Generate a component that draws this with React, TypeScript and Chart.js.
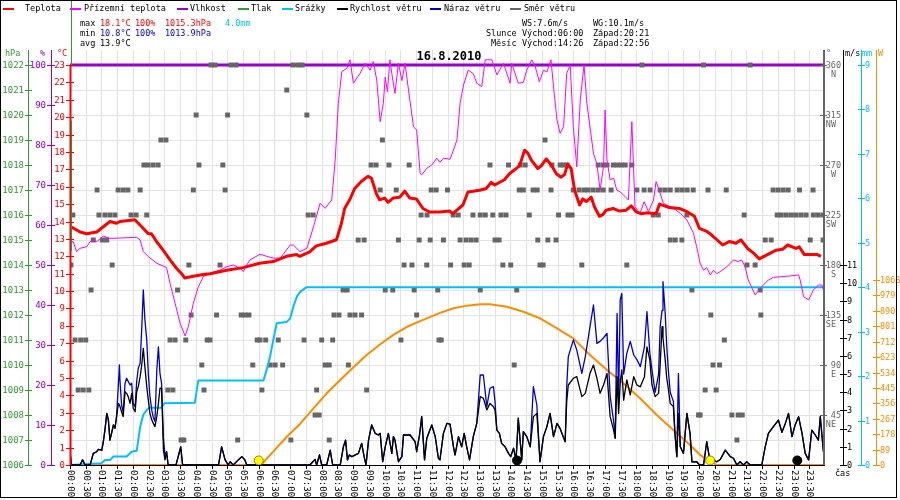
import React, { useEffect, useRef } from "react";
import { Chart, registerables } from "chart.js";

Chart.register(...registerables);

// ---------- data (hours since midnight) ----------
const dateTitle = "16.8.2010";

const tempTimes = [
  0.03, 0.32, 0.53, 0.85, 1.27, 1.48, 1.59, 1.8, 2.06, 2.28,
  2.49, 2.59, 2.75, 2.96, 3.18, 3.39, 3.55, 3.65, 3.92, 4.23,
  4.45, 4.98, 5.5, 6.03, 6.46, 6.88, 7.2, 7.3, 7.62, 7.83,
  8.15, 8.47, 8.63, 8.73, 8.89, 9.05, 9.26, 9.47, 9.58, 9.74,
  9.84, 10.0, 10.11, 10.27, 10.48, 10.64, 10.8, 11.01, 11.22, 11.43,
  11.75, 12.07, 12.17, 12.49, 12.65, 13.02, 13.23, 13.39, 13.5, 13.81,
  13.97, 14.29, 14.45, 14.55, 14.66, 14.87, 14.98, 15.14, 15.3, 15.46,
  15.61, 15.72, 15.82, 15.93, 16.04, 16.2, 16.3, 16.41, 16.57, 16.67,
  16.83, 16.94, 17.04, 17.26, 17.47, 17.68, 17.84, 18.0, 18.15, 18.36,
  18.63, 18.74, 19.05, 19.37, 19.63, 19.85, 20.01, 20.22, 20.38, 20.75,
  20.96, 21.17, 21.33, 21.54, 21.75, 21.91, 22.17, 22.28, 22.44, 22.65,
  22.81, 23.08, 23.18, 23.34, 23.76, 23.87,
];
const tempValues = [
  13.7, 13.4, 13.3, 13.4, 14.0, 13.9, 14.0, 14.05, 14.1, 13.7,
  13.3, 13.3, 12.85, 12.35, 11.8, 11.3, 11.0, 10.75, 10.85, 10.95,
  11.0, 11.2, 11.35, 11.6, 11.7, 12.0, 12.1, 12.0, 12.25, 12.6,
  12.75, 12.95, 13.9, 14.75, 15.25, 15.9, 16.3, 16.6, 16.5, 15.6,
  15.25, 15.35, 15.1, 15.35, 15.4, 15.75, 15.35, 15.3, 14.75, 14.55,
  14.55, 14.6, 14.45, 14.95, 15.7, 15.8, 15.9, 16.25, 16.1, 16.4,
  16.75, 17.2, 18.1, 17.95, 17.55, 17.05, 17.2, 17.6, 17.25, 16.75,
  16.55, 16.7, 17.3, 17.05, 15.8, 14.95, 15.3, 15.15, 15.4, 14.85,
  14.3, 14.4, 14.65, 14.75, 14.6, 14.65, 14.9, 14.55, 14.45, 14.5,
  14.45, 15.0, 14.8, 14.75, 14.55, 14.3, 13.6, 13.45, 13.25, 12.65,
  12.85, 12.75, 12.95, 12.45, 12.15, 11.85, 12.1, 12.2, 12.35, 12.4,
  12.65, 12.45, 12.55, 12.1, 12.1, 12.0,
];

const groundTimes = [
  0.03, 0.1, 0.21, 0.32, 0.53, 0.64, 0.74, 0.85, 1.06, 1.27,
  2.12, 2.23, 2.33, 2.49, 2.76, 3.07, 3.18, 3.34, 3.5, 3.66,
  3.76, 3.92, 4.08, 4.24, 4.45, 4.77, 4.98, 5.19, 5.41, 5.51,
  5.62, 5.72, 6.04, 6.25, 6.46, 6.68, 7.0, 7.1, 7.31, 7.53,
  7.74, 7.95, 8.11, 8.32, 8.43, 8.53, 8.64, 8.8, 8.9, 9.01,
  9.22, 9.38, 9.54, 9.64, 9.75, 9.86, 9.96, 10.02, 10.09, 10.17,
  10.23, 10.33, 10.44, 10.55, 10.65, 10.76, 10.92, 11.02, 11.13, 11.18,
  11.34, 11.5, 11.66, 11.76, 11.87, 12.08, 12.19, 12.3, 12.4, 12.51,
  12.66, 12.82, 12.93, 13.09, 13.2, 13.41, 13.57, 13.78, 13.99, 14.04,
  14.25, 14.41, 14.52, 14.68, 14.79, 14.92, 15.05, 15.16, 15.29, 15.37,
  15.48, 15.58, 15.69, 15.79, 15.9, 16.0, 16.11, 16.22, 16.34, 16.43,
  16.64, 16.75, 16.85, 16.96, 17.01, 17.07, 17.17, 17.28, 17.38, 17.49,
  17.65, 17.75, 17.86, 17.96, 18.12, 18.25, 18.39, 18.55, 18.63, 18.71,
  18.86, 19.18, 19.4, 19.61, 19.82, 19.92, 20.03, 20.14, 20.24, 20.35,
  20.46, 20.56, 20.67, 20.88, 21.09, 21.24, 21.35, 21.46, 21.56, 21.78,
  21.94, 22.2, 22.36, 22.89, 23.16, 23.21, 23.32, 23.48, 23.63, 23.79,
  23.9, 23.95,
];
const groundValues = [
  12.8, 12.85, 12.27, 12.46, 12.55, 12.84, 12.94, 12.84, 13.17, 13.03,
  13.09, 12.94, 12.27, 11.98, 11.6, 11.35, 10.45, 9.3, 8.15, 7.42,
  7.95, 9.3, 10.25, 10.83, 11.02, 11.21, 11.4, 11.5, 11.31, 11.12,
  11.5, 11.79, 12.12, 12.0, 11.9, 11.89, 12.65, 12.65, 12.27, 12.46,
  13.7, 15.05, 14.76, 15.24, 17.54, 20.8, 22.62, 22.81, 23.3, 21.95,
  22.52, 23.1, 22.7, 23.2, 22.14, 19.74, 20.8, 22.3, 21.47, 23.3,
  22.5, 21.37, 23.1, 22.1, 23.1, 21.56, 19.45, 19.26, 16.77, 16.68,
  17.06, 17.25, 17.64, 17.4, 17.64, 17.58, 18.11, 18.69, 20.8, 21.85,
  22.71, 22.5, 21.95, 21.76, 23.3, 23.3, 22.43, 23.1, 21.95, 23.1,
  21.95, 22.0, 22.71, 23.3, 22.9, 22.04, 22.7, 22.6, 23.3, 21.75,
  19.84, 19.07, 19.45, 22.52, 23.0, 19.45, 17.15, 20.99, 23.0, 20.8,
  17.92, 17.3, 15.81, 17.15, 20.41, 17.54, 16.39, 16.5, 15.81, 15.7,
  15.43, 15.24, 19.74, 14.85, 14.47, 15.14, 14.57, 15.24, 16.29, 15.91,
  15.05, 14.76, 14.47, 14.09, 13.32, 12.55, 11.6, 11.2, 11.35, 10.93,
  11.2, 11.0, 11.12, 11.4, 11.79, 11.7, 11.79, 11.4, 10.64, 9.78,
  10.16, 10.64, 10.79, 10.87, 10.93, 10.64, 9.68, 9.49, 10.06, 10.35,
  10.35, 10.06,
];

const humidityTimes = [0, 6, 12, 18, 24];
const humidityValues = [100, 100, 100, 100, 100];

const rainTimes = [
  0, 1.0, 1.11, 1.27, 1.38, 1.8, 1.96, 2.12, 2.17, 2.23,
  2.33, 2.44, 2.52, 2.91, 2.99, 3.97, 4.03, 4.08, 6.15, 6.25,
  6.36, 6.46, 6.57, 6.89, 7.0, 7.1, 7.21, 7.31, 7.47, 7.53, 24,
];
const rainValues = [
  0, 0.04, 0.11, 0.11, 0.19, 0.19, 0.3, 0.32, 0.56, 0.86,
  1.13, 1.24, 1.29, 1.29, 1.39, 1.4, 1.69, 1.9, 1.9, 2.14,
  2.44, 2.81, 3.19, 3.22, 3.3, 3.56, 3.79, 3.89, 3.98, 4.0, 4.0,
];

const solarTimes = [
  0, 6.0, 6.1, 6.46, 6.89, 7.31, 7.74, 8.16, 8.59, 9.01,
  9.43, 9.86, 10.28, 10.71, 11.13, 11.76, 12.19, 12.61, 13.04, 13.35,
  13.89, 14.41, 14.94, 15.48, 16.0, 16.53, 17.07, 17.59, 18.12, 18.65,
  19.18, 19.71, 20.03, 20.35, 20.56, 24,
];
const solarValues = [
  0, 0, 6, 77, 163, 237, 327, 414, 491, 564,
  635, 697, 751, 798, 831, 878, 905, 920, 928, 928,
  914, 885, 847, 789, 731, 635, 548, 472, 385, 289,
  202, 115, 58, 19, 0, 0,
];

const windTimes = [
  0.0, 0.05, 0.32, 0.4, 0.48, 0.64, 0.74, 0.85, 0.9, 1.01,
  1.06, 1.11, 1.17, 1.22, 1.27, 1.32, 1.38, 1.43, 1.48, 1.54,
  1.57, 1.59, 1.64, 1.69, 1.75, 1.8, 1.85, 1.91, 1.96, 2.01,
  2.07, 2.12, 2.17, 2.23, 2.28, 2.33, 2.38, 2.44, 2.49, 2.54,
  2.6, 2.65, 2.7, 2.76, 2.81, 2.86, 2.91, 2.97, 3.02, 3.07,
  3.12, 3.37, 3.48, 3.52, 3.58, 4.72, 4.82, 4.93, 5.03, 5.09,
  5.19, 5.35, 5.46, 5.56, 5.62, 7.63, 7.72, 7.79, 7.84, 7.93,
  8.0, 8.16, 8.27, 8.35, 8.59, 8.69, 8.76, 8.82, 8.88, 8.96,
  9.12, 9.17, 9.27, 9.35, 9.41, 9.49, 9.59, 9.7, 9.8, 9.86,
  9.94, 10.02, 10.12, 10.23, 10.28, 10.33, 10.44, 10.55, 10.6, 10.81,
  10.97, 11.02, 11.11, 11.18, 11.27, 11.34, 11.5, 11.61, 11.71, 11.76,
  11.87, 11.98, 12.08, 12.19, 12.24, 12.35, 12.45, 12.53, 12.61, 12.7,
  12.82, 12.93, 13.04, 13.14, 13.25, 13.35, 13.46, 13.51, 13.57, 13.65,
  13.72, 13.83, 13.94, 14.01, 14.1, 14.18, 14.25, 14.36, 14.41, 14.52,
  14.63, 14.73, 14.84, 14.94, 15.05, 15.16, 15.26, 15.37, 15.48, 15.58,
  15.74, 15.79, 15.84, 16.0, 16.11, 16.27, 16.38, 16.53, 16.64, 16.75,
  16.85, 16.96, 17.07, 17.17, 17.28, 17.33, 17.39, 17.44, 17.49, 17.54,
  17.6, 17.7, 17.81, 17.92, 18.02, 18.13, 18.26, 18.34, 18.43, 18.5,
  18.6, 18.71, 18.76, 18.82, 18.85, 18.92, 18.97, 19.02, 19.08, 19.18,
  19.23, 19.29, 19.34, 19.4, 19.5, 19.61, 19.71, 19.77, 19.92, 20.01,
  20.14, 20.24, 20.32, 20.4, 20.56, 20.67, 20.83, 20.99, 21.09, 21.2,
  21.3, 21.41, 21.51, 21.62, 21.99, 22.1, 22.2, 22.36, 22.52, 22.63,
  22.74, 22.84, 22.95, 23.05, 23.16, 23.27, 23.37, 23.48, 23.58, 23.69,
  23.79, 23.85, 23.95,
];
const windSpeed = [
  0.73, 0, 0, 0.28, 0, 0, 0.64, 0.73, 0.86, 0.82,
  1.28, 1.92, 2.84, 2.47, 1.37, 1.74, 2.2, 2.02, 2.66, 3.39,
  3.3, 3.21, 2.93, 2.66, 4.03, 3.94, 3.76, 3.39, 3.94, 3.12,
  2.93, 4.03, 4.31, 4.86, 5.5, 6.42, 5.41, 4.31, 3.57, 2.84,
  2.47, 2.29, 2.11, 2.66, 3.39, 4.22, 4.22, 0.82, 0.28, 0.73,
  0, 0, 0.73, 1.0, 0, 0, 1.0, 0.28, 0, 0.18,
  0, 0.28, 0.46, 0.28, 0, 0, 0.18, 0.31, 0, 0.55,
  0, 0, 0.82, 0, 0, 1.0, 1.37, 0.28, 0.55, 0.46,
  0.6, 0.64, 1.19, 0.46, 0, 1.37, 2.2, 1.74, 1.65, 1.74,
  0.18, 1.0, 1.74, 0.64, 1.56, 1.37, 0.18, 0.46, 1.65, 1.65,
  1.28, 0.73, 1.65, 2.66, 0.28, 1.46, 2.2, 1.56, 0.37, 0.28,
  1.74, 2.29, 2.25, 1.0, 0.55, 1.56, 1.0, 1.74, 1.0, 0.28,
  1.56, 2.29, 3.76, 3.67, 3.03, 3.39, 3.2, 3.03, 1.92, 1.74,
  1.19, 1.0, 0.64, 0.46, 0.92, 0.28, 2.57, 0.28, 1.83, 1.56,
  1.0, 2.66, 2.84, 0.18, 1.56, 2.11, 2.84, 1.56, 2.29, 2.0,
  1.28, 3.5, 4.4, 4.77, 4.86, 3.76, 3.94, 5.04, 5.5, 4.77,
  3.94, 4.4, 5.04, 2.66, 1.92, 1.46, 4.86, 2.84, 4.49, 5.23,
  3.57, 4.68, 3.85, 4.86, 4.4, 4.3, 4.86, 6.5, 5.78, 4.4,
  3.76, 3.94, 5.5, 7.61, 7.0, 5.78, 4.77, 4.2, 3.39, 3.21,
  1.74, 0.46, 2.84, 1.0, 0.64, 2.84, 1.74, 0.18, 0.18, 0,
  0, 1.28, 0.46, 0.3, 0.18, 0.3, 0.82, 0.46, 0.37, 0,
  0.18, 0, 0.18, 0, 0, 1.0, 1.74, 2.11, 2.47, 1.8,
  2.29, 2.84, 1.56, 2.2, 2.66, 1.74, 0.64, 0.28, 1.92, 1.65,
  1.37, 2.66, 0.73,
];
const windGust = [
  0.73, 0, 0, 0.28, 0, 0, 0.64, 0.73, 0.86, 0.82,
  1.28, 1.92, 2.84, 2.47, 1.37, 1.74, 2.2, 2.02, 2.66, 4.5,
  5.5, 4.6, 3.3, 2.9, 4.5, 4.77, 4.6, 4.4, 4.5, 3.4,
  3.2, 4.6, 5.32, 5.6, 7.5, 9.63, 8.0, 6.88, 5.0, 3.8,
  3.0, 2.6, 2.4, 5.23, 6.5, 5.04, 4.5, 1.5, 0.5, 0.73,
  0, 0, 0.73, 1.0, 0, 0, 1.0, 0.28, 0, 0.18,
  0, 0.28, 0.46, 0.28, 0, 0, 0.18, 0.31, 0, 0.55,
  0, 0, 0.82, 0, 0, 1.0, 1.37, 0.28, 0.55, 0.46,
  0.6, 0.64, 1.19, 0.46, 0, 1.37, 2.2, 1.74, 1.65, 1.74,
  0.18, 1.0, 1.74, 0.64, 1.56, 1.37, 0.18, 0.46, 1.65, 1.65,
  1.28, 0.73, 1.65, 2.66, 0.28, 1.46, 2.2, 1.56, 0.37, 0.28,
  1.74, 2.29, 2.25, 1.0, 0.55, 1.56, 1.0, 1.74, 1.0, 0.28,
  1.56, 2.29, 4.95, 4.95, 3.21, 4.22, 4.31, 3.5, 1.92, 1.74,
  1.19, 1.0, 0.64, 0.46, 0.92, 0.28, 2.57, 0.28, 1.83, 1.56,
  1.0, 4.31, 3.3, 0.18, 1.56, 2.11, 2.84, 1.56, 2.29, 2.0,
  1.28, 4.31, 5.96, 6.88, 6.32, 5.04, 5.96, 7.61, 8.8, 6.69,
  6.8, 7.0, 7.24, 3.8, 2.4, 1.5, 8.34, 3.5, 9.08, 9.44,
  5.0, 6.14, 6.8, 6.05, 5.8, 5.41, 6.5, 8.43, 6.2, 5.23,
  4.0, 5.0, 7.61, 8.5, 10.08, 8.34, 6.5, 5.23, 4.0, 3.5,
  1.74, 0.46, 5.04, 1.0, 0.64, 2.84, 1.74, 0.18, 0.18, 0,
  0, 1.28, 0.46, 0.3, 0.18, 0.3, 0.82, 0.46, 0.37, 0,
  0.18, 0, 0.18, 0, 0, 1.0, 1.74, 2.11, 2.47, 1.8,
  2.29, 2.84, 1.56, 2.2, 2.66, 1.74, 0.64, 0.28, 1.92, 1.65,
  1.37, 2.66, 0.73,
];

// wind direction samples, grouped by compass direction (degrees)
const dirDegrees = [360, 337.5, 315, 292.5, 270, 247.5, 225, 202.5, 180, 157.5, 135, 112.5, 90, 67.5, 45, 22.5];
const dir360 = [4.48, 4.61, 5.12, 5.28, 7.09, 7.25, 7.38, 18.18, 20.14, 21.62];
const dir337 = [6.89];
const dir315 = [4.01, 5.01, 7.53];
const dir292 = [2.89, 3.05, 9.93, 15.1];
const dir270 = [2.35, 2.48, 2.64, 2.8, 4.1, 4.86, 9.57, 9.73, 10.14, 10.78, 13.35, 13.94, 14.31, 14.47, 15.32, 15.58, 15.68, 15.8, 16.79, 16.95, 17.07, 17.27, 17.39, 17.52, 17.65, 17.86];
const dir247 = [0.86, 1.53, 1.69, 1.84, 2.23, 3.92, 4.93, 9.86, 10.37, 11.48, 11.64, 12.0, 14.28, 14.41, 14.72, 14.85, 15.29, 16.0, 16.18, 16.34, 16.47, 16.63, 16.79, 16.95, 17.2, 18.02, 18.25, 18.44, 18.76, 18.92, 19.08, 19.3, 19.46, 19.62, 19.81, 20.28, 20.86, 22.35, 22.51, 22.67, 22.83, 23.19, 23.62];
const dir225 = [0.09, 0.92, 1.11, 1.27, 1.43, 1.94, 2.1, 2.44, 7.57, 7.73, 11.16, 11.35, 12.18, 12.34, 12.81, 13.04, 13.2, 13.44, 13.7, 13.86, 14.6, 15.53, 15.83, 15.96, 18.54, 18.7, 19.61, 21.43, 22.48, 22.61, 22.77, 22.93, 23.08, 23.24, 23.4, 23.63, 23.78, 23.94];
const dir202 = [0.74, 1.03, 1.17, 9.16, 9.35, 10.44, 11.1, 11.45, 11.87, 12.4, 12.59, 12.75, 12.91, 13.51, 13.64, 14.87, 15.19, 15.45, 19.08, 19.24, 19.45, 22.1, 22.29, 23.53, 23.94];
const dir180 = [0.03, 1.34, 3.78, 4.77, 10.62, 10.87, 11.34, 12.1, 12.53, 12.69, 13.76, 14.01, 14.94, 15.04, 16.27, 17.7, 21.52, 21.78];
const dir157 = [0.67, 3.42, 8.68, 8.81, 10.02, 10.26, 10.94, 11.69, 13.04, 14.2, 19.77, 21.94];
const dir135 = [3.85, 4.66, 5.44, 5.56, 5.69, 8.39, 8.55, 8.9, 9.06, 9.27, 11.02, 20.37, 21.96];
const dir112 = [0.16, 0.34, 0.5, 3.18, 3.34, 3.68, 4.36, 4.45, 5.95, 6.04, 6.22, 6.62, 7.44, 8.0, 8.35, 10.52, 11.73, 11.8, 20.8];
const dir90 = [4.19, 5.81, 6.36, 6.52, 6.76, 8.11, 8.24, 8.85, 14.12, 20.44, 20.65];
const dir67 = [0.26, 0.42, 0.6, 3.11, 3.27, 4.26, 6.1, 7.84, 9.43, 20.19, 20.54];
const dir45 = [7.79, 7.92, 19.98, 20.03, 21.04, 21.24, 21.37];
const dir22 = [3.53, 3.62, 5.33, 7.02, 8.24, 21.2];
const dirTimes = [dir360, dir337, dir315, dir292, dir270, dir247, dir225, dir202, dir180, dir157, dir135, dir112, dir90, dir67, dir45, dir22];

// sun / moon markers as drawn on the chart
const sunMarks = [6.0, 20.35];
const moonMarks = [14.21, 23.12];
const markerLevel = 0.25;

// axis ticks
const hPaTicks = [1006, 1007, 1008, 1009, 1010, 1011, 1012, 1013, 1014, 1015, 1016, 1017, 1018, 1019, 1020, 1021, 1022];
const humTicks = [0, 10, 20, 30, 40, 50, 60, 70, 80, 90, 100];
const tempTicks = [0, 1, 2, 3, 4, 5, 6, 7, 8, 9, 10, 11, 12, 13, 14, 15, 16, 17, 18, 19, 20, 21, 22, 23];
const dirTicks = [45, 90, 135, 180, 225, 270, 315, 360];
const dirNames = ["NE", "E", "SE", "S", "SW", "W", "NW", "N"];
const windTicks = [0, 1, 2, 3, 4, 5, 6, 7, 8, 9, 10, 11];
const rainTicks = [0, 1, 2, 3, 4, 5, 6, 7, 8, 9];
const solarTicks = [0, 89, 178, 267, 356, 445, 534, 623, 712, 801, 890, 979, 1068];

// text blocks
const statsMax = ["18.1°C", "100%", "1015.3hPa", "4.0mm"];
const statsMin = ["10.8°C", "100%", "1013.9hPa"];
const statsAvg = ["13.9°C"];
const windStats = ["WS:7.6m/s", "WG:10.1m/s"];
const sunText = ["Slunce", "Východ:06:00", "Západ:20:21"];
const moonText = ["Měsíc", "Východ:14:26", "Západ:22:56"];

// ---------- styling ----------
const C = {
  temp: "#ff0000",
  ground: "#ff00ff",
  hum: "#9900cc",
  press: "#339933",
  rain: "#00bfff",
  wind: "#000000",
  gust: "#0000cc",
  dir: "#666666",
  solar: "#ff8c00",
};
const MONO = '"DejaVu Sans Mono", monospace';
const F_SMALL = `8.5px ${MONO}`;
const F_TICK = `9px ${MONO}`;

const pts = (t: number[], v: number[]) => t.map((x, i) => ({ x, y: v[i] }));

function txt(ctx: any, s: string, x: number, y: number, color: string, align = "left", font = F_SMALL) {
  ctx.font = font;
  ctx.fillStyle = color;
  ctx.textAlign = align;
  ctx.textBaseline = "middle";
  ctx.fillText(s, x, y);
}
function vline(ctx: any, x: number, y0: number, y1: number, color: string, w = 1) {
  ctx.strokeStyle = color;
  ctx.lineWidth = w;
  ctx.beginPath();
  ctx.moveTo(x, y0);
  ctx.lineTo(x, y1);
  ctx.stroke();
}
function hline(ctx: any, x0: number, x1: number, y: number, color: string, w = 1) {
  ctx.strokeStyle = color;
  ctx.lineWidth = w;
  ctx.beginPath();
  ctx.moveTo(x0, y);
  ctx.lineTo(x1, y);
  ctx.stroke();
}
const px = (v: number) => Math.round(v) + 0.5;

const chrome = {
  id: "chrome",
  beforeDraw(chart: any) {
    const ctx = chart.ctx;
    ctx.save();
    ctx.fillStyle = "#ffffff";
    ctx.fillRect(0, 0, chart.width, chart.height);
    ctx.restore();
  },
  beforeDatasetsDraw(chart: any) {
    const { ctx, chartArea: a, scales } = chart;
    ctx.save();
    for (let k = 1; k < 48; k++) {
      const x = px(scales.x.getPixelForValue(k / 2));
      vline(ctx, x, a.top, a.bottom, "#e3e3e3");
    }
    hPaTicks.forEach((p) => {
      if (p === 1006) return;
      const y = px(scales.yP.getPixelForValue(p));
      hline(ctx, a.left, a.right, y, "#e3e3e3");
    });
    ctx.restore();
  },
  afterDatasetsDraw(chart: any) {
    const { ctx, chartArea: a, scales } = chart;
    const top = a.top;
    const bot = a.bottom;
    ctx.save();

    // ----- left axes -----
    // pressure
    vline(ctx, 28.5, top, bot, C.press);
    hPaTicks.forEach((v) => {
      const y = px(scales.yP.getPixelForValue(v));
      hline(ctx, 25, 32, y, C.press);
      txt(ctx, String(v), 24, y, C.press, "right", F_TICK);
    });
    // humidity
    vline(ctx, 51.5, top, bot, C.hum);
    humTicks.forEach((v) => {
      const y = px(scales.yH.getPixelForValue(v));
      hline(ctx, 47, 55, y, C.hum);
      txt(ctx, String(v), 46, y, C.hum, "right", F_TICK);
    });
    // temperature
    const yT23 = scales.yT.getPixelForValue(23);
    vline(ctx, 70.5, yT23, bot, C.temp, 2);
    vline(ctx, 71.5, 1, yT23, C.press);
    vline(ctx, 71.5, scales.yT.getPixelForValue(19.8), scales.yT.getPixelForValue(12.3), C.press);
    tempTicks.forEach((v) => {
      const y = px(scales.yT.getPixelForValue(v));
      hline(ctx, 66, 74, y, C.temp);
      txt(ctx, String(v), 65, y, C.temp, "right", F_TICK);
    });
    txt(ctx, "hPa", 5, 54, C.press);
    txt(ctx, "%", 40, 54, C.hum);
    txt(ctx, "°C", 57, 54, C.temp);

    // ----- right axes -----
    vline(ctx, 824, top, bot, C.dir, 2);
    dirTicks.forEach((v, i) => {
      const y = px(scales.yD.getPixelForValue(v));
      hline(ctx, 820, 827, y, C.dir);
      txt(ctx, String(v), 841, y, C.dir, "right");
      txt(ctx, dirNames[i], 836, y + 9, C.dir, "right");
    });
    vline(ctx, 843.5, top, bot, C.wind);
    windTicks.forEach((v) => {
      const y = px(scales.yW.getPixelForValue(v));
      hline(ctx, 840, 847, y, C.wind);
      txt(ctx, String(v), 847, y, C.wind, "left");
    });
    vline(ctx, 861.5, top, bot, C.rain);
    rainTicks.forEach((v) => {
      const y = px(scales.yR.getPixelForValue(v));
      hline(ctx, 858, 865, y, C.rain);
      txt(ctx, String(v), 865, y, C.rain, "left");
    });
    vline(ctx, 876.5, top, bot, C.solar);
    solarTicks.forEach((v) => {
      const y = px(scales.yS.getPixelForValue(v));
      hline(ctx, 873, 880, y, C.solar);
      txt(ctx, String(v), 880, y, C.solar, "left");
    });
    txt(ctx, "°", 826, 54, C.dir);
    txt(ctx, "m/s", 845, 54, C.wind);
    txt(ctx, "mm", 862, 54, C.rain);
    txt(ctx, "W", 878, 54, C.solar);

    // ----- x axis -----
    hline(ctx, a.left, a.right, bot + 0.5, "#000000");
    for (let k = 0; k < 48; k++) {
      const x = px(scales.x.getPixelForValue(k / 2));
      vline(ctx, x, bot + 1, bot + 4, "#000000");
      const hh = String(Math.floor(k / 2)).padStart(2, "0");
      const label = `${hh}:${k % 2 ? "30" : "00"}`;
      ctx.save();
      ctx.translate(x, bot + 5);
      ctx.rotate(Math.PI / 2);
      txt(ctx, label, 0, 0, "#000000", "left", F_TICK);
      ctx.restore();
    }
    txt(ctx, "čas", 835, 474, "#000000", "left");

    // ----- title -----
    txt(ctx, dateTitle, 449, 57, "#000000", "center", `bold 12px ${MONO}`);

    // ----- legend -----
    const legend = [
      [C.temp, 3, 25, "Teplota"],
      [C.ground, 70, 84, "Přízemní teplota"],
      [C.hum, 177, 190, "Vlhkost"],
      [C.press, 238, 251, "Tlak"],
      [C.rain, 282, 295, "Srážky"],
      [C.wind, 337, 350, "Rychlost větru"],
      [C.gust, 430, 444, "Náraz větru"],
      [C.dir, 510, 524, "Směr větru"],
    ] as any[];
    legend.forEach(([c, sx, tx, t]) => {
      hline(ctx, sx, sx + 11, 9, c, 2);
      txt(ctx, t, tx, 9, "#000000");
    });

    // ----- stats -----
    txt(ctx, "max", 80, 24, "#000000");
    txt(ctx, statsMax[0], 100, 24, C.temp);
    txt(ctx, statsMax[1], 135, 24, C.temp);
    txt(ctx, statsMax[2], 165, 24, C.temp);
    txt(ctx, statsMax[3], 225, 24, C.rain);
    txt(ctx, "min", 80, 34, "#000000");
    txt(ctx, statsMin[0], 100, 34, "#0000dd");
    txt(ctx, statsMin[1], 135, 34, "#0000dd");
    txt(ctx, statsMin[2], 165, 34, "#0000dd");
    txt(ctx, "avg", 80, 44, "#000000");
    txt(ctx, statsAvg[0], 100, 44, "#000000");

    txt(ctx, windStats[0], 522, 24, "#000000");
    txt(ctx, windStats[1], 593, 24, "#000000");
    txt(ctx, sunText[0], 486, 34, "#000000");
    txt(ctx, sunText[1], 522, 34, "#000000");
    txt(ctx, sunText[2], 593, 34, "#000000");
    txt(ctx, moonText[0], 491, 44, "#000000");
    txt(ctx, moonText[1], 522, 44, "#000000");
    txt(ctx, moonText[2], 593, 44, "#000000");

    // frame
    ctx.strokeStyle = "#000000";
    ctx.lineWidth = 1;
    ctx.strokeRect(0.5, 0.5, 896, 497);
    ctx.restore();
  },
};

export default function App() {
  const ref = useRef<HTMLCanvasElement | null>(null);

  useEffect(() => {
    document.body.style.margin = "0";
    const dirData: { x: number; y: number }[] = [];
    dirTimes.forEach((times, i) => times.forEach((t) => dirData.push({ x: t, y: dirDegrees[i] })));

    const line = (label: string, data: any[], axis: string, color: string, width: number, order: number) => ({
      label,
      data,
      yAxisID: axis,
      borderColor: color,
      backgroundColor: color,
      borderWidth: width,
      pointRadius: 0,
      tension: 0,
      fill: false,
      borderJoinStyle: "round",
      order,
    });

    const chart = new Chart(ref.current as HTMLCanvasElement, {
      type: "line",
      data: {
        datasets: [
          {
            label: "Slunce",
            data: sunMarks.map((t) => ({ x: t, y: markerLevel })),
            yAxisID: "yW",
            showLine: false,
            pointRadius: 4.5,
            pointBackgroundColor: "#ffff00",
            pointBorderColor: "#8a8a00",
            pointBorderWidth: 1,
            order: 0,
          },
          {
            label: "Měsíc",
            data: moonMarks.map((t) => ({ x: t, y: markerLevel })),
            yAxisID: "yW",
            showLine: false,
            pointRadius: 4.5,
            pointBackgroundColor: "#000000",
            pointBorderColor: "#000000",
            pointBorderWidth: 1,
            order: 0,
          },
          line("Teplota", pts(tempTimes, tempValues), "yT", C.temp, 3, 1),
          line("Rychlost větru", pts(windTimes, windSpeed), "yW", C.wind, 1.3, 2),
          line("Náraz větru", pts(windTimes, windGust), "yW", C.gust, 1.3, 3),
          line("Přízemní teplota", pts(groundTimes, groundValues), "yT", C.ground, 1, 4),
          line("Srážky", pts(rainTimes, rainValues), "yR", C.rain, 2, 5),
          line("Sluneční záření", pts(solarTimes, solarValues), "yS", C.solar, 2, 6),
          {
            label: "Směr větru",
            data: dirData,
            yAxisID: "yD",
            showLine: false,
            pointStyle: "rect",
            pointRadius: 3.5,
            pointBackgroundColor: C.dir,
            pointBorderColor: C.dir,
            pointBorderWidth: 0,
            order: 7,
          },
          line("Vlhkost", pts(humidityTimes, humidityValues), "yH", C.hum, 3, 8),
        ],
      },
      options: {
        responsive: false,
        animation: false,
        devicePixelRatio: 1,
        layout: { padding: { left: 70, right: 75, top: 50, bottom: 35 } },
        plugins: { legend: { display: false }, tooltip: { enabled: false } },
        scales: {
          x: { type: "linear", min: 0, max: 24, display: false },
          yT: { type: "linear", min: 0, max: 23.8625, display: false },
          yH: { type: "linear", min: 0, max: 103.75, display: false },
          yP: { type: "linear", min: 1006, max: 1022.6, display: false },
          yD: { type: "linear", min: 0, max: 373.5, display: false },
          yW: { type: "linear", min: 0, max: 22.825, display: false },
          yR: { type: "linear", min: 0, max: 9.3375, display: false },
          yS: { type: "linear", min: 0, max: 2395.8, display: false },
        },
      } as any,
      plugins: [chrome],
    });
    return () => chart.destroy();
  }, []);

  return (
    <div style={{ width: 900, height: 500 }}>
      <canvas ref={ref} width={900} height={500} style={{ display: "block" }} />
    </div>
  );
}
